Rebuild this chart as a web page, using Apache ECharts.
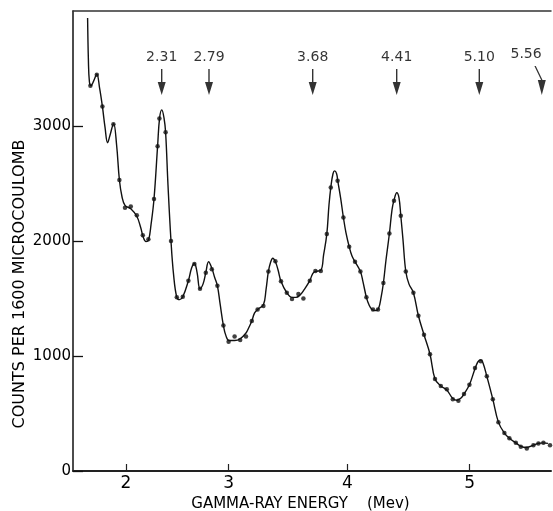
<!DOCTYPE html>
<html>
<head>
<meta charset="utf-8">
<title>Gamma-ray spectrum</title>
<script src="https://cdn.jsdelivr.net/npm/echarts@6/dist/echarts.min.js"></script>
<style>
  html, body { margin: 0; padding: 0; background: #fff; }
  #main { width: 553px; height: 511px; }
</style>
</head>
<body>
<div id="main"></div>
<script>
// pulse-height channel (x) and counts per 1600 microcoulomb (y) of the measured points
var dotChannel = [8.7, 11.9, 14.7, 20.2, 23.2, 26.0, 28.9, 31.9, 34.9, 37.7,
  40.5, 42.3, 43.2, 46.3, 49.0, 51.9, 54.9, 57.7, 60.7, 63.5,
  66.4, 69.4, 72.2, 75.2, 77.8, 80.8, 83.6, 86.5, 89.4, 92.3,
  95.2, 97.7, 101.2, 104.0, 106.9, 109.5, 112.7, 115.2, 118.4, 121.2,
  123.9, 126.9, 128.9, 132.3, 135.2, 138.1, 141.0, 143.7, 146.7, 150.0,
  152.5, 155.2, 158.2, 160.5, 163.9, 166.4, 170.2, 172.7, 175.5, 178.5,
  181.0, 183.9, 186.9, 189.9, 192.7, 195.5, 198.2, 201.0, 203.9, 206.9,
  209.9, 212.7, 215.7, 218.2, 221.4, 223.9, 226.9, 230.2, 232.7, 235.2, 238.5];
var dotCounts = [3350, 3445, 3170, 3015, 2530, 2290, 2300, 2225, 2050, 2015,
  2365, 2825, 3065, 2945, 2000, 1510, 1515, 1655, 1800, 1585,
  1725, 1755, 1610, 1265, 1125, 1170, 1140, 1170, 1305, 1405,
  1435, 1735, 1825, 1650, 1550, 1495, 1540, 1500, 1655, 1740,
  1740, 2060, 2465, 2525, 2205, 1950, 1820, 1735, 1510, 1405,
  1405, 1635, 2065, 2350, 2220, 1735, 1550, 1350, 1185, 1015,
  800, 740, 710, 625, 610, 670, 750, 895, 955, 825,
  625, 425, 330, 285, 245, 210, 195, 225, 240, 245, 225];

// the hand drawn curve through the points
var curveChannel = [7.3, 7.7, 8.2, 9.0, 10.3, 11.9, 13.3, 14.7, 16.0, 17.3,
  18.5, 20.3, 21.8, 23.2, 24.5, 26.0, 28.9, 31.9, 33.8, 35.3,
  36.5, 37.8, 39.0, 40.5, 42.3, 43.3, 44.4, 45.5, 46.3, 47.5,
  49.0, 50.3, 51.9, 53.3, 54.9, 57.7, 59.3, 60.7, 62.0, 63.5,
  65.0, 66.4, 67.8, 69.4, 70.8, 72.2, 73.5, 75.2, 76.5, 78.0,
  80.8, 83.6, 86.5, 88.0, 89.4, 90.8, 92.3, 95.2, 96.5, 97.7,
  98.8, 99.9, 101.2, 102.5, 104.0, 106.9, 109.5, 111.5, 113.5, 115.5,
  118.4, 119.8, 121.2, 123.9, 125.3, 126.9, 128.0, 129.0, 130.0, 130.8,
  131.8, 132.4, 133.8, 135.2, 136.5, 138.1, 139.5, 141.0, 143.7, 145.0,
  146.7, 148.0, 149.5, 151.3, 152.8, 154.0, 155.2, 156.5, 158.2, 159.5,
  160.5, 161.9, 163.0, 163.9, 165.0, 166.4, 168.0, 170.2, 172.7, 175.5,
  178.5, 181.0, 183.9, 186.9, 189.9, 192.0, 194.0, 195.5, 198.2, 201.0,
  202.5, 203.9, 205.0, 206.9, 209.9, 212.7, 215.7, 218.2, 221.4, 223.9,
  226.9, 230.2, 232.7, 235.2, 237.5];
var curveCounts = [3940, 3575, 3385, 3350, 3390, 3450, 3330, 3170, 2990, 2855,
  2920, 3020, 2835, 2530, 2385, 2310, 2280, 2215, 2120, 2025,
  1995, 2010, 2140, 2365, 2825, 3070, 3140, 3070, 2945, 2485,
  2000, 1705, 1510, 1490, 1515, 1655, 1765, 1805, 1730, 1585,
  1625, 1725, 1820, 1765, 1685, 1610, 1460, 1265, 1175, 1135,
  1135, 1150, 1200, 1250, 1305, 1375, 1405, 1445, 1575, 1735,
  1815, 1850, 1820, 1750, 1650, 1550, 1510, 1510, 1530, 1575,
  1655, 1715, 1735, 1745, 1880, 2060, 2315, 2480, 2585, 2610,
  2585, 2520, 2375, 2205, 2070, 1950, 1870, 1820, 1735, 1645,
  1510, 1445, 1405, 1395, 1415, 1505, 1635, 1835, 2065, 2270,
  2355, 2420, 2375, 2220, 2010, 1735, 1625, 1550, 1350, 1185,
  1015, 800, 740, 705, 630, 615, 635, 670, 750, 890,
  950, 965, 940, 825, 625, 425, 330, 285, 245, 215,
  205, 225, 240, 245, 240];

// energy calibration marks on the channel scale
var tickChannel = [26.5, 77.85, 137.15, 198.35];
var tickEnergy = ['2', '3', '4', '5'];

// expected gamma-ray lines (arrows)
var arrowChannel = [44.35, 68, 119.85, 161.85, 203.15, 234.35];
var arrowEnergy = ['2.31', '2.79', '3.68', '4.41', '5.10', '5.56'];
var arrowTip = 3270;

var chart = echarts.init(document.getElementById('main'));

var curveData = curveChannel.map(function (c, i) { return [c, curveCounts[i]]; });
var dotData = dotChannel.map(function (c, i) { return [c, dotCounts[i]]; });

// arrow = thin shaft + filled head, tip at the bottom of the symbol
var arrowPath = 'path://M3.3,0 L4.7,0 L4.7,13 L8,13 L4,26 L0,13 L3.3,13 Z';
var bentArrowPath = 'path://M0.3,0 L1.7,0 L8.4,14 L11.7,14 L7.7,29 L3.7,14 L7.0,14 Z';

var arrowData = arrowChannel.map(function (c, i) {
  var item = { value: [c, arrowTip], name: arrowEnergy[i] };
  if (i === arrowChannel.length - 1) {
    item.symbol = bentArrowPath;
    item.symbolSize = [11.4, 29];
    item.symbolOffset = [-1.6, -14.5];
    item.label = { offset: [-14, 0] };
  }
  return item;
});

var font = 'DejaVu Sans';

var option = {
  backgroundColor: '#fff',
  animation: false,
  grid: { left: 73, right: 2, top: 11, bottom: 40, containLabel: false, outerBoundsMode: 'none' },
  xAxis: [{
    type: 'value',
    min: 0,
    max: 239,
    name: 'GAMMA-RAY ENERGY    (Mev)',
    nameLocation: 'middle',
    nameGap: 26,
    nameMoveOverlap: false,
    nameTextStyle: { color: '#000', fontSize: 15, fontFamily: font, padding: [0, 23, 0, 0] },
    axisLine: { show: true, lineStyle: { color: '#222', width: 2 } },
    axisTick: { show: true, inside: true, length: 7, customValues: tickChannel, lineStyle: { color: '#222', width: 1.2 } },
    axisLabel: {
      customValues: tickChannel,
      margin: 4,
      color: '#000',
      fontSize: 17,
      fontFamily: font,
      formatter: function (v) {
        var i = tickChannel.indexOf(v);
        return i >= 0 ? tickEnergy[i] : '';
      }
    },
    splitLine: { show: false }
  }, {
    type: 'value',
    position: 'top',
    min: 0,
    max: 239,
    axisLine: { show: true, lineStyle: { color: '#333', width: 1.5 } },
    axisTick: { show: false },
    axisLabel: { show: false },
    splitLine: { show: false }
  }],
  yAxis: {
    type: 'value',
    min: 0,
    max: 4000,
    interval: 1000,
    name: 'COUNTS PER 1600 MICROCOULOMB',
    nameLocation: 'middle',
    nameGap: 45,
    nameMoveOverlap: false,
    nameTextStyle: { color: '#000', fontSize: 16, fontFamily: font, padding: [0, 86, 0, 0] },
    axisLine: { show: true, lineStyle: { color: '#111', width: 1.5 } },
    axisTick: { show: true, inside: true, length: 10, lineStyle: { color: '#111', width: 1.3 } },
    axisLabel: {
      color: '#000', fontSize: 15, fontFamily: font, margin: 2, showMaxLabel: false,
      formatter: function (v) { return String(v); }
    },
    splitLine: { show: false }
  },
  series: [{
    name: 'curve',
    type: 'line',
    data: curveData,
    smooth: 0.4,
    showSymbol: false,
    lineStyle: { color: '#111', width: 1.4 },
    z: 2
  }, {
    name: 'points',
    type: 'scatter',
    data: dotData,
    symbolSize: 4.5,
    itemStyle: { color: '#111' },
    z: 3
  }, {
    name: 'lines',
    type: 'scatter',
    data: arrowData,
    symbol: arrowPath,
    symbolSize: [8, 26],
    symbolOffset: [0, -13],
    itemStyle: { color: '#000' },
    label: {
      show: true,
      position: 'top',
      distance: 5,
      formatter: '{b}',
      color: '#000',
      fontSize: 14,
      fontFamily: font
    },
    z: 4
  }]
};

chart.setOption(option);
</script>
</body>
</html>
